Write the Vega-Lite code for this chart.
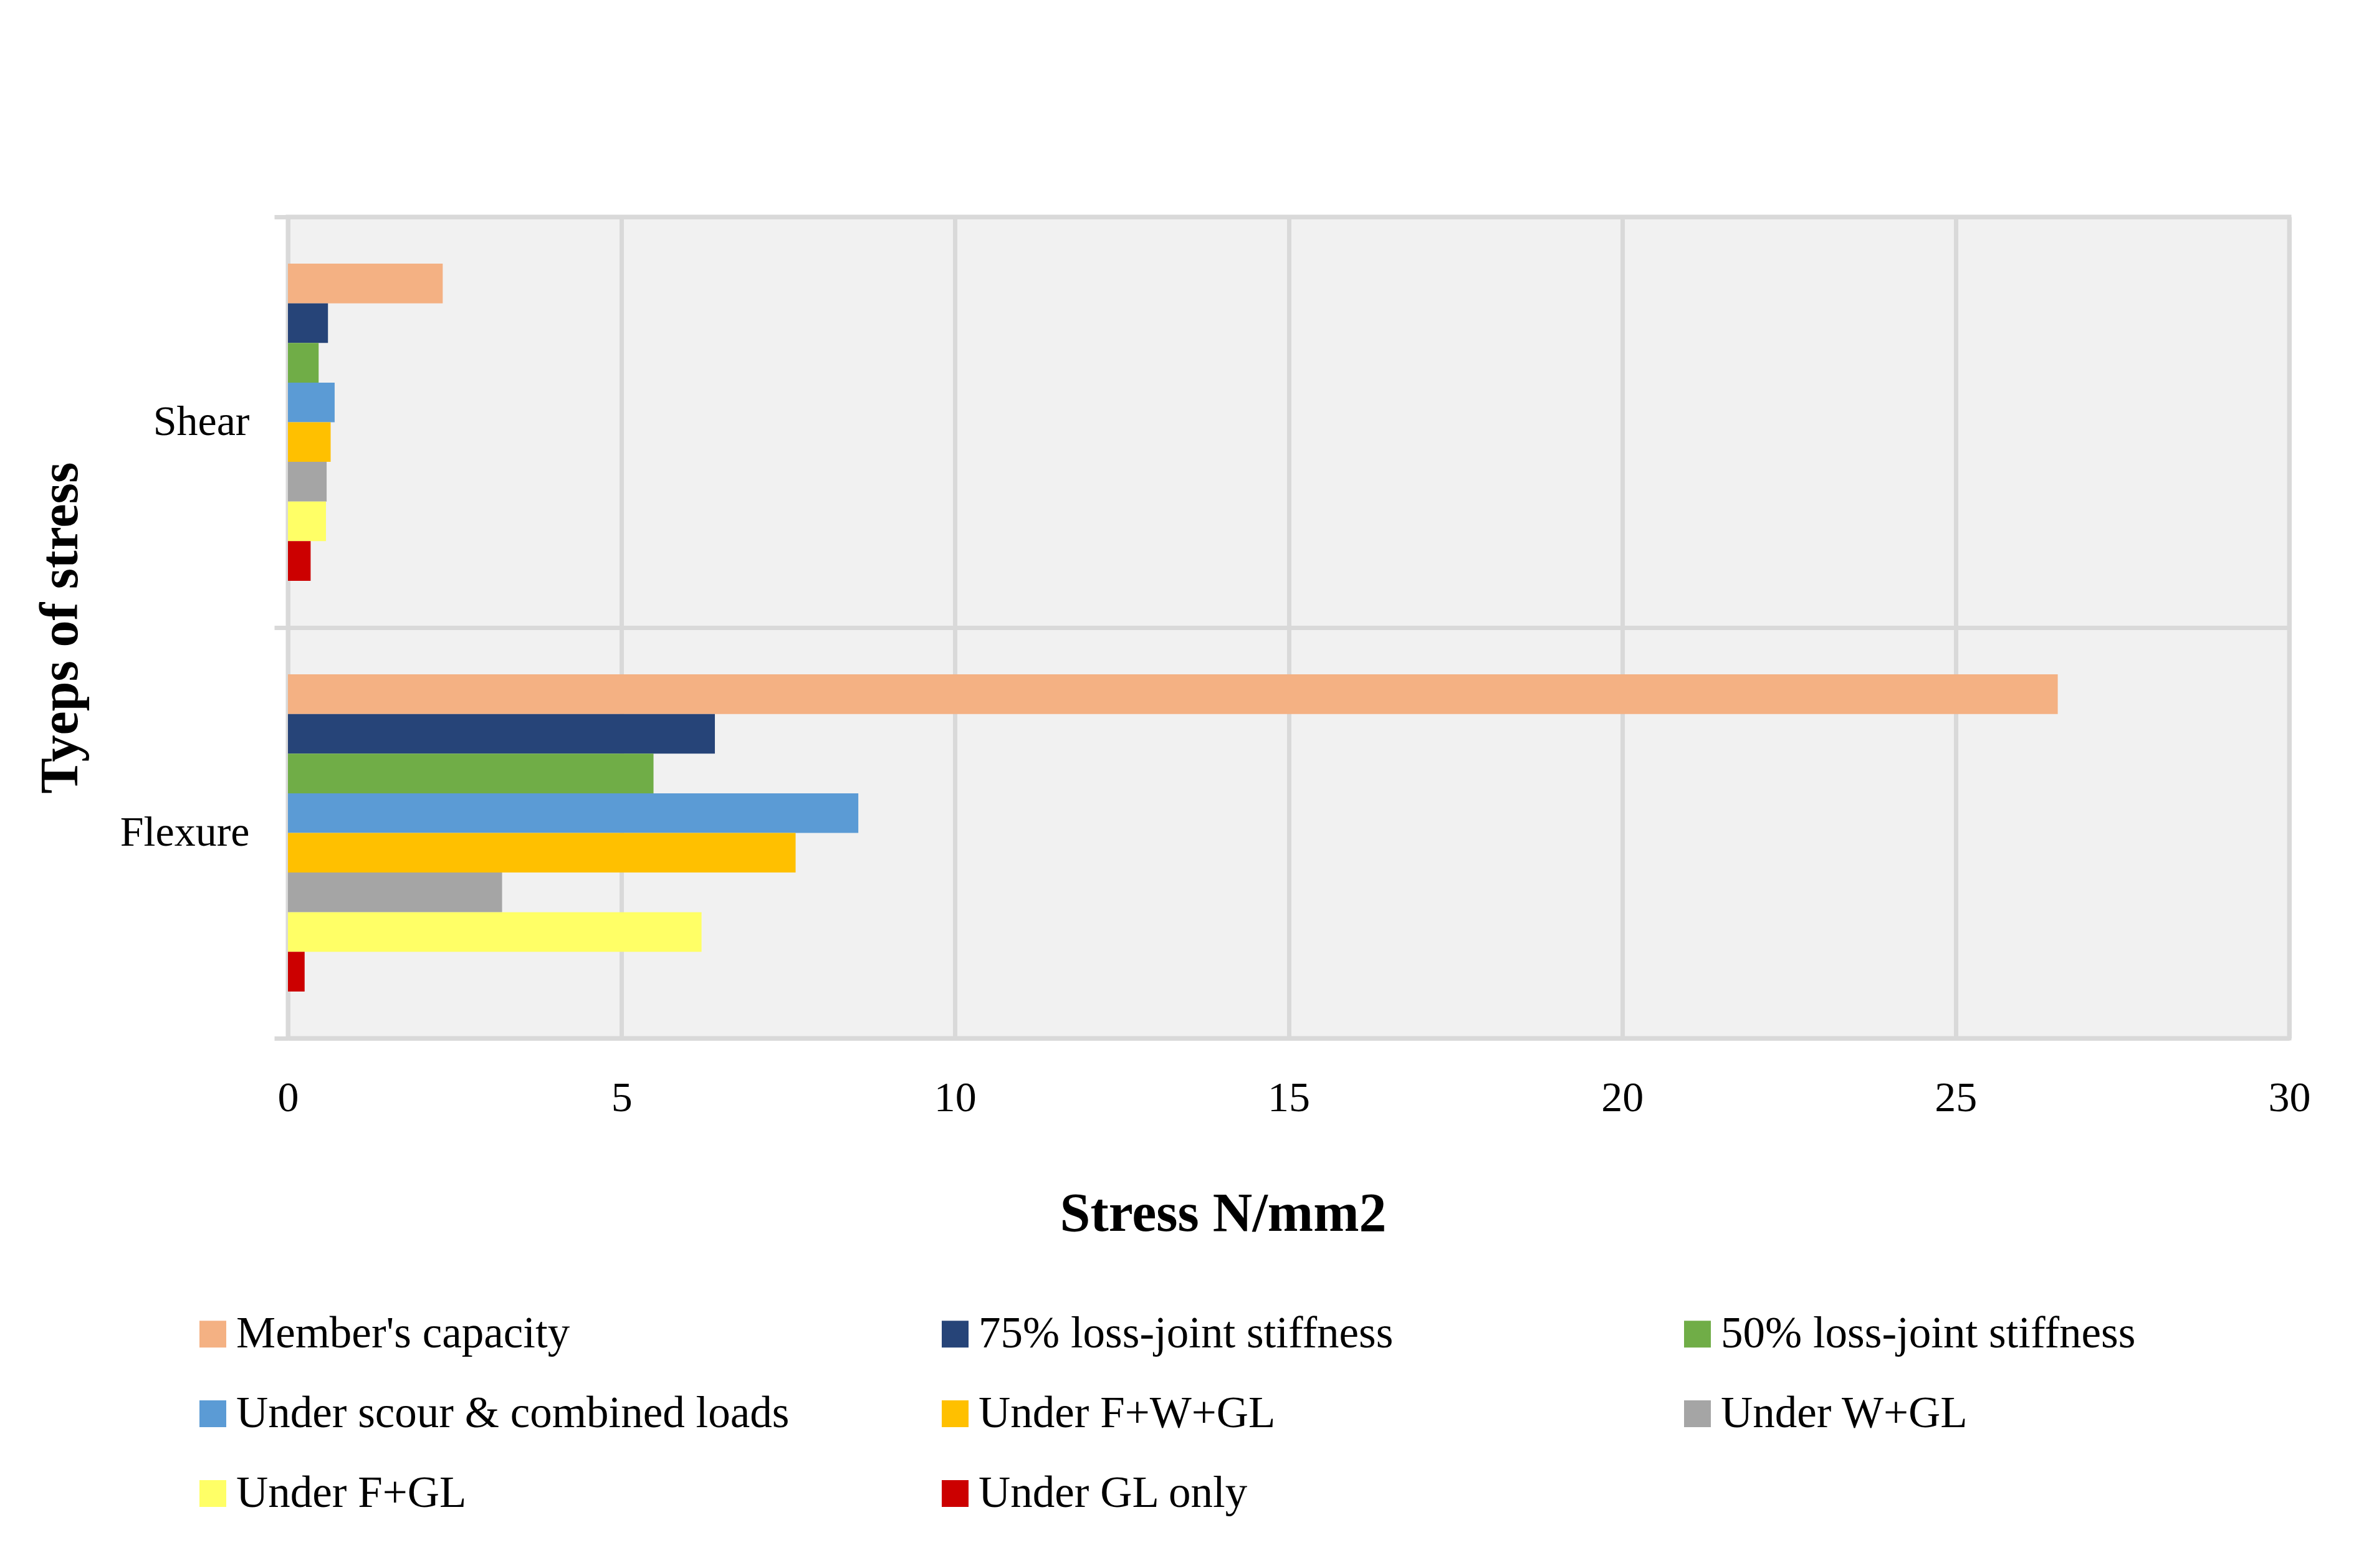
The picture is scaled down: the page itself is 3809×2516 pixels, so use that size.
{
  "$schema": "https://vega.github.io/schema/vega-lite/v6.json",
  "autosize": {"type": "none"},
  "width": 3211,
  "height": 1318,
  "padding": {"left": 462, "top": 348, "right": 136, "bottom": 850},
  "background": "white",
  "config": {
    "font": "Liberation Serif",
    "view": {"fill": "#f1f1f1", "stroke": "#d9d9d9", "strokeWidth": 7}
  },
  "data": {
    "values": [
      {"type": "Shear", "series": "Member's capacity", "value": 2.32},
      {"type": "Shear", "series": "75% loss-joint stiffness", "value": 0.60},
      {"type": "Shear", "series": "50% loss-joint stiffness", "value": 0.46},
      {"type": "Shear", "series": " Under scour & combined loads", "value": 0.70},
      {"type": "Shear", "series": " Under F+W+GL", "value": 0.64},
      {"type": "Shear", "series": "Under W+GL", "value": 0.58},
      {"type": "Shear", "series": "Under F+GL", "value": 0.57},
      {"type": "Shear", "series": "Under GL only", "value": 0.34},
      {"type": "Flexure", "series": "Member's capacity", "value": 26.53},
      {"type": "Flexure", "series": "75% loss-joint stiffness", "value": 6.40},
      {"type": "Flexure", "series": "50% loss-joint stiffness", "value": 5.48},
      {"type": "Flexure", "series": " Under scour & combined loads", "value": 8.55},
      {"type": "Flexure", "series": " Under F+W+GL", "value": 7.61},
      {"type": "Flexure", "series": "Under W+GL", "value": 3.21},
      {"type": "Flexure", "series": "Under F+GL", "value": 6.20},
      {"type": "Flexure", "series": "Under GL only", "value": 0.25}
    ]
  },
  "mark": {"type": "bar", "cornerRadius": 0},
  "encoding": {
    "y": {
      "field": "type",
      "type": "nominal",
      "sort": ["Shear", "Flexure"],
      "scale": {"paddingInner": 0, "paddingOuter": 0},
      "axis": {
        "title": "Tyeps of stress",
        "titleFont": "Liberation Serif",
        "titleFontSize": 86,
        "titleFontWeight": "bold",
        "titleColor": "#000000",
        "titleAngle": -90,
        "titleAlign": "center",
        "titleBaseline": "alphabetic",
        "titleX": -339,
        "titleY": 659,
        "labelFontSize": 68,
        "labelColor": "#000000",
        "labelPadding": 40,
        "labelLimit": 1000,
        "domain": false,
        "ticks": true,
        "tickBand": "extent",
        "tickColor": "#d9d9d9",
        "tickWidth": 7,
        "tickSize": 22,
        "grid": true,
        "gridColor": "#d9d9d9",
        "gridWidth": 7
      }
    },
    "yOffset": {
      "field": "series",
      "type": "nominal",
      "scale": {
        "domain": ["gap-top", "Member's capacity", "75% loss-joint stiffness", "50% loss-joint stiffness", " Under scour & combined loads", " Under F+W+GL", "Under W+GL", "Under F+GL", "Under GL only", "gap-bottom"],
        "paddingInner": 0,
        "paddingOuter": 0.18
      }
    },
    "x": {
      "field": "value",
      "type": "quantitative",
      "scale": {"domain": [0, 30], "nice": false},
      "axis": {
        "title": "Stress N/mm2",
        "titleFont": "Liberation Serif",
        "titleFontSize": 88,
        "titleFontWeight": "bold",
        "titleColor": "#000000",
        "titleAlign": "center",
        "titleBaseline": "alphabetic",
        "titleX": 1500,
        "titleY": 308,
        "values": [0, 5, 10, 15, 20, 25, 30],
        "labelFontSize": 68,
        "labelColor": "#000000",
        "labelPadding": 62,
        "labelFlush": false,
        "domain": false,
        "ticks": false,
        "grid": true,
        "gridColor": "#d9d9d9",
        "gridWidth": 7
      }
    },
    "color": {
      "field": "series",
      "type": "nominal",
      "scale": {
        "domain": ["Member's capacity", "75% loss-joint stiffness", "50% loss-joint stiffness", " Under scour & combined loads", " Under F+W+GL", "Under W+GL", "Under F+GL", "Under GL only"],
        "range": ["#F4B183", "#264478", "#70AD47", "#5B9BD5", "#FFC000", "#A5A5A5", "#FFFF66", "#CC0000"]
      },
      "legend": {
        "title": null,
        "orient": "none",
        "legendX": -156,
        "legendY": 1757,
        "direction": "horizontal",
        "columns": 3,
        "gridAlign": "all",
        "columnPadding": 230,
        "rowPadding": 56,
        "symbolType": "square",
        "symbolSize": 1849,
        "symbolStrokeWidth": 0,
        "symbolOpacity": 1,
        "labelFontSize": 71,
        "labelColor": "#000000",
        "labelOffset": 2,
        "labelLimit": 2000
      }
    }
  }
}
